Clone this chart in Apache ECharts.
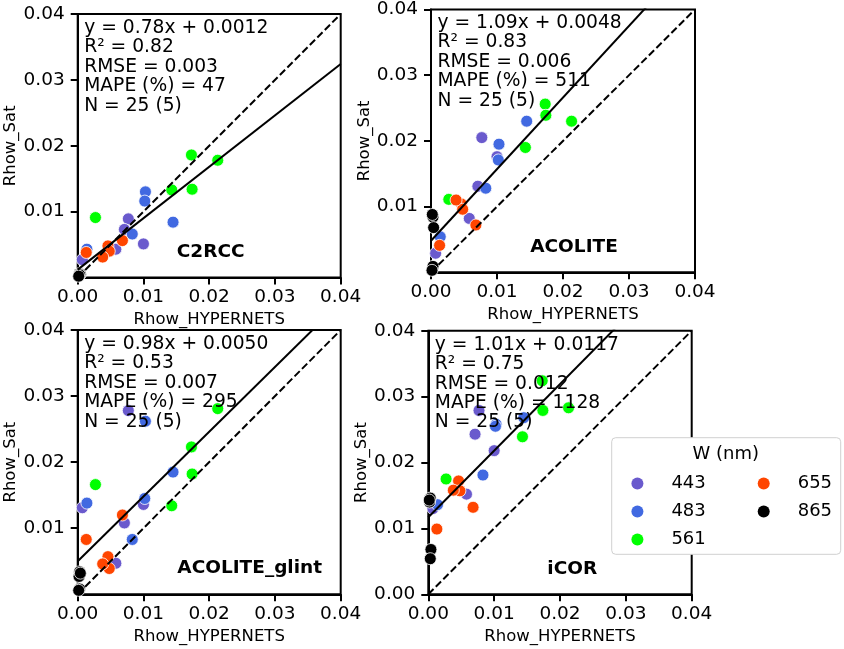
<!DOCTYPE html>
<html>
<head>
<meta charset="utf-8">
<script src="https://cdn.jsdelivr.net/npm/echarts@6/dist/echarts.min.js"></script>
<style>
  html, body { margin: 0; padding: 0; background: #fff; }
  #chart { width: 844px; height: 649px; }
</style>
</head>
<body>
<div id="chart"></div>
<script>
const bands = ["443", "483", "561", "655", "865"];
const methods = ["C2RCC", "ACOLITE", "ACOLITE_glint", "iCOR"];
const axisTicks = [0, 0.01, 0.02, 0.03, 0.04];

// Rhow_HYPERNETS, one row per band
const hypernets = [
  [0.0077, 0.0071, 0.0100, 0.0058, 0.0007],
  [0.0103, 0.0102, 0.0145, 0.0083, 0.0014],
  [0.0173, 0.0213, 0.0143, 0.0174, 0.0027],
  [0.0068, 0.0046, 0.0048, 0.0038, 0.0013],
  [0.0003, 0.0002, 0.0004, 0.0003, 0.00015]
];

// Rhow_Sat per method, one row per band
const satC2RCC = [
  [0.0089, 0.0073, 0.0051, 0.0043, 0.0027],
  [0.0130, 0.0116, 0.0084, 0.0066, 0.0043],
  [0.0186, 0.0178, 0.0133, 0.0134, 0.0091],
  [0.0056, 0.0048, 0.0040, 0.0031, 0.0038],
  [0.0006, 0.0003, 0.0005, 0.0004, 0.0002]
];
const satACOLITE = [
  [0.0205, 0.0131, 0.0176, 0.0082, 0.0029],
  [0.0195, 0.0171, 0.0230, 0.0128, 0.0054],
  [0.0256, 0.0230, 0.0190, 0.0239, 0.0111],
  [0.0072, 0.0104, 0.0096, 0.0110, 0.0041],
  [0.0084, 0.0088, 0.0068, 0.0009, 0.0003]
];
const satGlint = [
  [0.0278, 0.0108, 0.0136, 0.0047, 0.0131],
  [0.0262, 0.0145, 0.0185, 0.0083, 0.0138],
  [0.0223, 0.0281, 0.0134, 0.0182, 0.0166],
  [0.0120, 0.0057, 0.0039, 0.0046, 0.0083],
  [0.0034, 0.0027, 0.0032, 0.0008, 0.0006]
];
const satICOR = [
  [0.0279, 0.0243, 0.0218, 0.0152, 0.0130],
  [0.0258, 0.0255, 0.0268, 0.0181, 0.0136],
  [0.0324, 0.0283, 0.0239, 0.0279, 0.0175],
  [0.0132, 0.0172, 0.0157, 0.0158, 0.0099],
  [0.0146, 0.0140, 0.0068, 0.0054, 0.0143]
];
const satAll = [satC2RCC, satACOLITE, satGlint, satICOR];

// fit statistics per method
const slopes = [0.78, 1.09, 0.98, 1.01];
const intercepts = [0.0012, 0.0048, 0.0050, 0.0117];
const r2 = ["0.82", "0.83", "0.53", "0.75"];
const rmse = ["0.003", "0.006", "0.007", "0.012"];
const mape = ["47", "511", "295", "1128"];
const counts = ["25 (5)", "25 (5)", "25 (5)", "25 (5)"];

// layout and styles
const bandColors = ["#6a5acd", "#4169e1", "#00ff00", "#ff4500", "#000000"];
const font = "DejaVu Sans";
const grids = [
  { left: 77.7, top: 14, width: 263, height: 263.5 },
  { left: 431, top: 9, width: 264, height: 263.3 },
  { left: 77.7, top: 330, width: 263, height: 264.3 },
  { left: 428.3, top: 330.7, width: 263.4, height: 263.6 }
];
const labelCenterX = [133, 143, 172, 144];
const showZeroY = [false, false, false, true];

const xAxes = [], yAxes = [], series = [], graphics = [];

grids.forEach((g, i) => {
  xAxes.push({
    gridIndex: i,
    type: "value",
    min: 0,
    max: 0.04,
    interval: 0.01,
    name: "Rhow_HYPERNETS",
    nameLocation: "middle",
    nameGap: 34,
    nameTextStyle: { fontFamily: font, fontSize: 16.5, color: "#000" },
    axisLine: { show: true, lineStyle: { color: "#000", width: 2 } },
    axisTick: { show: true, length: 7, lineStyle: { color: "#000", width: 2 } },
    axisLabel: {
      margin: 10,
      fontFamily: font,
      fontSize: 18.5,
      color: "#000",
      formatter: (v) => v.toFixed(2)
    },
    splitLine: { show: false }
  });
  const yVals = showZeroY[i] ? axisTicks : axisTicks.slice(1);
  yAxes.push({
    gridIndex: i,
    type: "value",
    min: 0,
    max: 0.04,
    interval: 0.01,
    name: "Rhow_Sat",
    nameLocation: "middle",
    nameGap: 58,
    nameTextStyle: { fontFamily: font, fontSize: 16.5, color: "#000" },
    axisLine: { show: true, lineStyle: { color: "#000", width: 2 } },
    axisTick: {
      show: true,
      length: 7,
      customValues: yVals,
      lineStyle: { color: "#000", width: 2 }
    },
    axisLabel: {
      margin: 13,
      fontFamily: font,
      fontSize: 18.5,
      color: "#000",
      customValues: yVals,
      formatter: (v) => v.toFixed(2)
    },
    splitLine: { show: false }
  });

  bands.forEach((band, b) => {
    series.push({
      name: band,
      type: "scatter",
      xAxisIndex: i,
      yAxisIndex: i,
      symbolSize: 12,
      itemStyle: { color: bandColors[b], borderColor: "#fff", borderWidth: 0.8, opacity: 1 },
      data: hypernets[b].map((x, k) => [x, satAll[i][b][k]]),
      z: 3
    });
  });

  series.push({
    type: "line",
    xAxisIndex: i,
    yAxisIndex: i,
    showSymbol: false,
    silent: true,
    clip: true,
    lineStyle: { color: "#000", width: 2, type: [7.4, 3.2] },
    data: [[0, 0], [0.04, 0.04]],
    z: 4
  });
  series.push({
    type: "line",
    xAxisIndex: i,
    yAxisIndex: i,
    showSymbol: false,
    silent: true,
    clip: true,
    lineStyle: { color: "#000", width: 2 },
    data: [[0, intercepts[i]], [0.04, slopes[i] * 0.04 + intercepts[i]]],
    z: 4
  });

  const sign = intercepts[i] >= 0 ? "+" : "-";
  const statText = [
    "y = " + slopes[i].toFixed(2) + "x " + sign + " " + Math.abs(intercepts[i]).toFixed(4),
    "R\u00b2 = " + r2[i],
    "RMSE = " + rmse[i],
    "MAPE (%) = " + mape[i],
    "N = " + counts[i]
  ].join("\n");
  graphics.push({
    type: "text",
    x: g.left + 6.5,
    y: g.top + 4.5,
    z: 10,
    style: {
      text: statText,
      font: "18.7px '" + font + "'",
      lineHeight: 19.4,
      fill: "#000",
      align: "left",
      verticalAlign: "top"
    }
  });
  graphics.push({
    type: "text",
    x: g.left + labelCenterX[i],
    y: g.top + 238,
    z: 10,
    style: {
      text: methods[i],
      font: "bold 18.5px '" + font + "'",
      fill: "#000",
      align: "center",
      verticalAlign: "middle"
    }
  });
});

// legend frame and title
graphics.push({
  type: "rect",
  z: 20,
  shape: { x: 611.7, y: 437.7, width: 229, height: 116.6, r: 4 },
  style: { fill: "#fff", stroke: "#d0d0d0", lineWidth: 1 }
});
graphics.push({
  type: "text",
  z: 21,
  x: 725.7,
  y: 454,
  style: {
    text: "W (nm)",
    font: "18px '" + font + "'",
    fill: "#000",
    align: "center",
    verticalAlign: "middle"
  }
});

const legendBase = {
  orient: "vertical",
  icon: "circle",
  itemWidth: 58,
  itemHeight: 12,
  itemGap: 10,
  padding: 0,
  top: 474.6,
  z: 30,
  selectedMode: false,
  itemStyle: { borderWidth: 0 },
  textStyle: { fontFamily: font, fontSize: 18, color: "#000" }
};

const chart = echarts.init(document.getElementById("chart"), null, { renderer: "canvas" });
chart.setOption({
  backgroundColor: "#fff",
  animation: false,
  grid: grids.map((g) => ({
    left: g.left,
    top: g.top,
    width: g.width,
    height: g.height,
    show: true,
    borderColor: "#000",
    borderWidth: 2,
    backgroundColor: "transparent"
  })),
  xAxis: xAxes,
  yAxis: yAxes,
  legend: [
    Object.assign({}, legendBase, { left: 631.4, data: bands.slice(0, 3) }),
    Object.assign({}, legendBase, { left: 757.7, data: bands.slice(3) })
  ],
  series: series,
  graphic: graphics
});
</script>
</body>
</html>
